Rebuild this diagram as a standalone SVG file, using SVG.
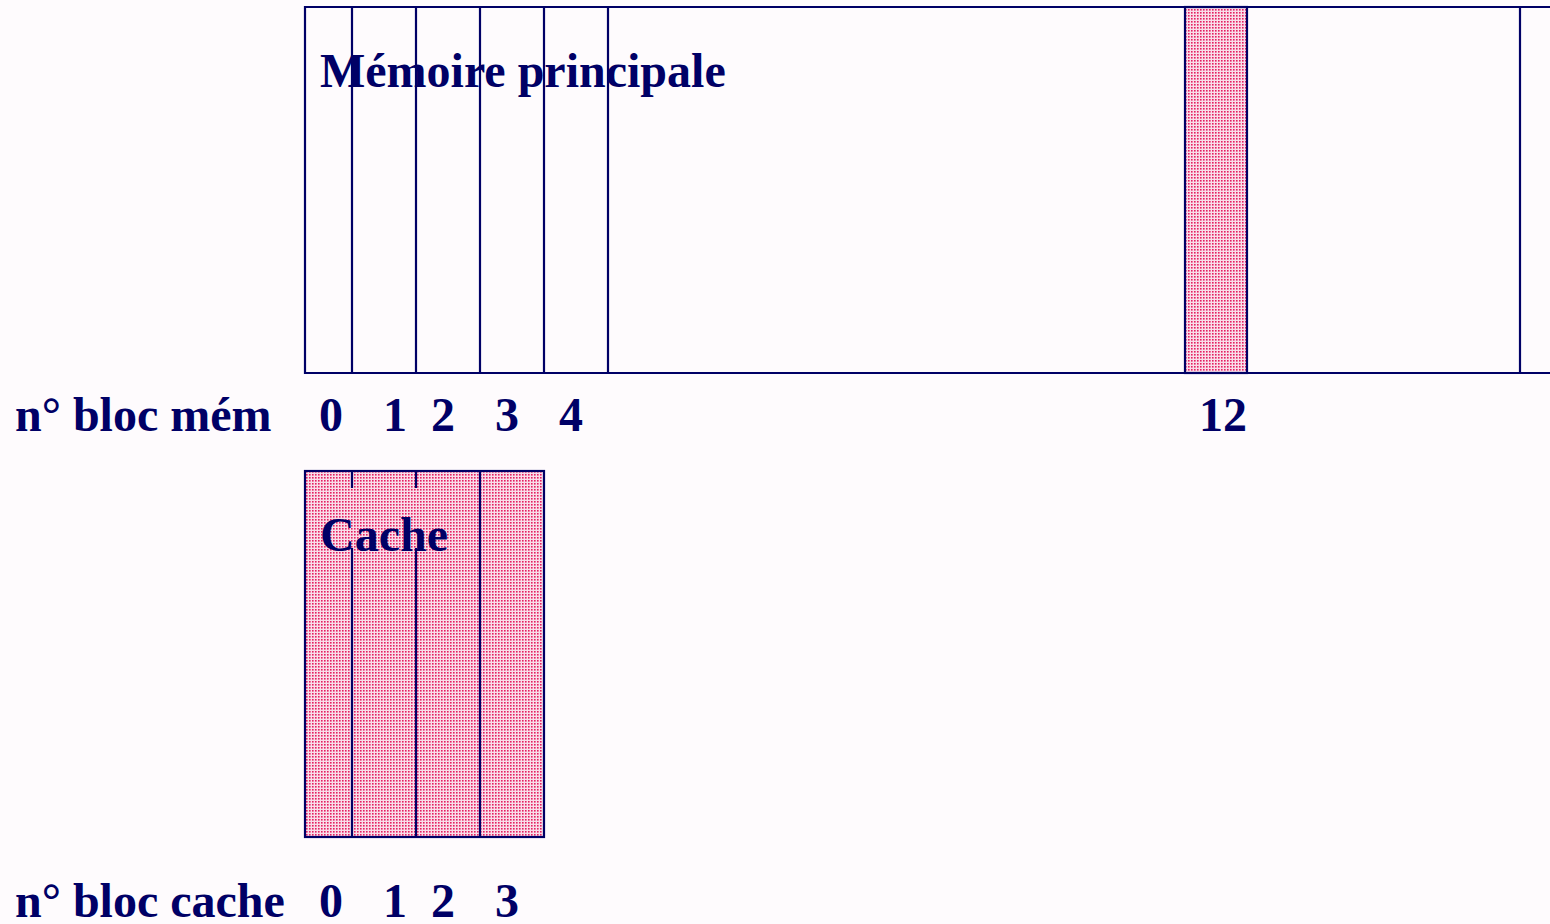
<svg xmlns="http://www.w3.org/2000/svg" width="1550" height="924" viewBox="0 0 1550 924">
  <defs>
    <!-- dotted pink fill for occupied blocks -->
    <pattern id="dots" width="3" height="3" patternUnits="userSpaceOnUse">
      <rect width="3" height="3" fill="#f9dde9"/>
      <rect width="1.6" height="1.6" fill="#e41f62"/>
    </pattern>
    <style>
      .ln { stroke: #000066; stroke-width: 2.2; fill: none; }
      .hl { fill: url(#dots); stroke: #000066; stroke-width: 2.2; }
      .t { font-family: "Liberation Serif", "Times New Roman", serif; font-weight: bold; font-size: 48px; fill: #000066; }
    </style>
  </defs>
  <rect width="1550" height="924" fill="#fefbfd"/>

  <!-- main memory -->
  <g id="memoire">
    <rect class="hl" x="1185" y="7" width="62" height="366"/>
    <path class="ln" d="M1551 7 H305 V373 H1551"/>
    <path class="ln" d="M352 7 V373 M416 7 V373 M480 7 V373 M544 7 V373 M608 7 V373 M1520 7 V373"/>
    <text class="t" x="320" y="87">Mémoire principale</text>
  </g>

  <!-- memory block numbers -->
  <g id="labels-mem">
    <text class="t" x="15" y="431">n° bloc mém</text>
    <text class="t" x="319" y="431">0</text>
    <text class="t" x="383" y="431">1</text>
    <text class="t" x="431" y="431">2</text>
    <text class="t" x="495" y="431">3</text>
    <text class="t" x="559" y="431">4</text>
    <text class="t" x="1199" y="431">12</text>
  </g>

  <!-- cache -->
  <g id="cache">
    <rect class="hl" x="305" y="471" width="239" height="366"/>
    <path class="ln" d="M352 471 V488 M416 471 V488 M352 548 V837 M416 548 V837 M480 471 V837"/>
    <text class="t" x="320" y="551">Cache</text>
  </g>

  <!-- cache block numbers -->
  <g id="labels-cache">
    <text class="t" x="15" y="917">n° bloc cache</text>
    <text class="t" x="319" y="917">0</text>
    <text class="t" x="383" y="917">1</text>
    <text class="t" x="431" y="917">2</text>
    <text class="t" x="495" y="917">3</text>
  </g>
</svg>
